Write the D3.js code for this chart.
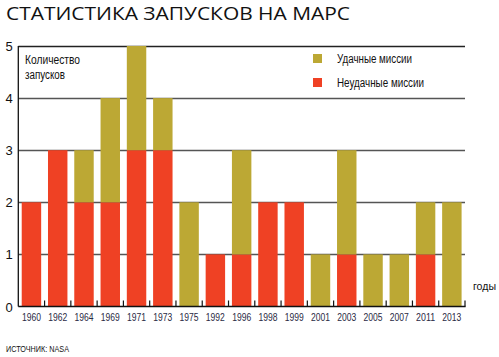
<!DOCTYPE html>
<html><head><meta charset="utf-8">
<script src="https://cdn.jsdelivr.net/npm/d3@7"></script>
<style>body{margin:0;background:#fff}svg{display:block}</style>
</head><body>
<svg id="c" width="499" height="357"></svg>
<script>
const years = ["1960","1962","1964","1969","1971","1973","1975","1992","1996","1998","1999","2001","2003","2005","2007","2011","2013"];
const failed = [2,3,2,2,3,3,0,1,1,2,2,0,1,0,0,1,0];
const success = [0,0,1,2,2,1,2,0,2,0,0,1,2,1,1,1,2];
const yTicks = [0,1,2,3,4,5];
const seriesNames = ["Удачные миссии","Неудачные миссии"];
const colors = {success:"#bca834", failed:"#ef4124"};

const svg = d3.select("#c");
const L = 18.3, R = 465, T = 46, B = 306.5;
const x = d3.scaleBand().domain(years).range([L, R]).paddingInner(0.26).paddingOuter(0.13);
const y = d3.scaleLinear().domain([0,5]).range([B, T]);
const font = "'Liberation Sans',Arial,sans-serif";

// title
svg.append("text").attr("x",6).attr("y",20).attr("font-family","'Open Sans',sans-serif").attr("font-weight",400)
  .attr("font-size",19).attr("fill","#111").attr("textLength",344).attr("lengthAdjust","spacingAndGlyphs")
  .text("СТАТИСТИКА ЗАПУСКОВ НА МАРС");

// gridlines
svg.append("g").selectAll("line").data(yTicks.filter(d=>d>0)).join("line")
  .attr("x1",L).attr("x2",R).attr("y1",d=>Math.round(y(d))+0.5).attr("y2",d=>Math.round(y(d))+0.5)
  .attr("stroke",d=>d===5?"#222":"#555").attr("stroke-width",1.3);

// bars
const data = years.map((yr,i)=>({yr, f:failed[i], s:success[i]}));
const g = svg.append("g");
g.selectAll("rect.f").data(data.filter(d=>d.f>0)).join("rect").attr("class","f")
  .attr("x",d=>x(d.yr)).attr("width",x.bandwidth())
  .attr("y",d=>y(d.f)).attr("height",d=>y(0)-y(d.f)).attr("fill",colors.failed);
g.selectAll("rect.s").data(data.filter(d=>d.s>0)).join("rect").attr("class","s")
  .attr("x",d=>x(d.yr)).attr("width",x.bandwidth())
  .attr("y",d=>y(d.f+d.s)).attr("height",d=>y(d.f)-y(d.f+d.s)).attr("fill",colors.success);

// axes lines
svg.append("line").attr("x1",L).attr("x2",L).attr("y1",T).attr("y2",B).attr("stroke","#111").attr("stroke-width",1.3);
svg.append("line").attr("x1",L).attr("x2",R+0.6).attr("y1",B).attr("y2",B).attr("stroke","#111").attr("stroke-width",1.3);
// boundary ticks
const bounds = years.map((yr,i)=> i===0 ? null : (x(years[i-1])+x.bandwidth()+x(yr))/2).filter(v=>v!==null);
bounds.push(R);
svg.append("g").selectAll("line").data(bounds).join("line")
  .attr("x1",d=>d).attr("x2",d=>d).attr("y1",B).attr("y2",B-6).attr("stroke","#111").attr("stroke-width",1.2);

// y labels
svg.append("g").selectAll("text").data(yTicks).join("text")
  .attr("x",9).attr("y",d=>y(d)+5).attr("text-anchor","middle")
  .attr("font-family",font).attr("font-size",13).attr("fill","#111").text(d=>d);

// x labels
svg.append("g").selectAll("text").data(years).join("text")
  .attr("x",d=>x(d)+x.bandwidth()/2 - 9.5).attr("y",321)
  .attr("font-family",font).attr("font-size",11).attr("fill","#2a2a44")
  .attr("textLength",19).attr("lengthAdjust","spacingAndGlyphs").text(d=>d);

// y axis title
svg.append("text").attr("x",25).attr("y",64).attr("font-family",font).attr("font-size",12).attr("fill","#111")
  .attr("textLength",55).attr("lengthAdjust","spacingAndGlyphs").text("Количество");
svg.append("text").attr("x",25).attr("y",79).attr("font-family",font).attr("font-size",12).attr("fill","#111")
  .attr("textLength",40).attr("lengthAdjust","spacingAndGlyphs").text("запусков");

// legend
const leg = [{n:seriesNames[0],c:colors.success,yy:58,w:75},{n:seriesNames[1],c:colors.failed,yy:82,w:87}];
const lg = svg.append("g");
lg.selectAll("rect").data(leg).join("rect").attr("x",313).attr("y",d=>d.yy-4).attr("width",9).attr("height",9).attr("fill",d=>d.c);
lg.selectAll("text").data(leg).join("text").attr("x",337).attr("y",d=>d.yy+4.5)
  .attr("font-family",font).attr("font-size",12).attr("fill","#111")
  .attr("textLength",d=>d.w).attr("lengthAdjust","spacingAndGlyphs").text(d=>d.n);

// x axis title
svg.append("text").attr("x",473).attr("y",290).attr("font-family",font).attr("font-size",11.5).attr("fill","#111")
  .attr("textLength",23).attr("lengthAdjust","spacingAndGlyphs").text("годы");

// source
svg.append("text").attr("x",6).attr("y",352).attr("font-family",font).attr("font-size",9.5).attr("fill","#111")
  .attr("textLength",63).attr("lengthAdjust","spacingAndGlyphs").text("ИСТОЧНИК: NASA");
</script>
</body></html>
